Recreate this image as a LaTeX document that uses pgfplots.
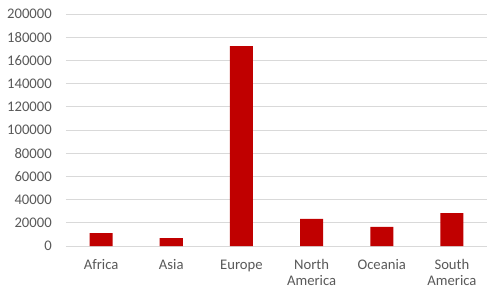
\documentclass[border=0pt]{standalone}
\usepackage{fontspec}
\setmainfont{Carlito}
\usepackage{pgfplots}
\pgfplotsset{compat=1.18}
\definecolor{barred}{HTML}{C00000}
\definecolor{gridgray}{HTML}{D9D9D9}
\definecolor{labelgray}{HTML}{595959}
\begin{document}
\begin{tikzpicture}[x=1pt,y=1pt]
\path[use as bounding box] (-49.5pt,-38.25pt) rectangle (316.5pt,184.5pt);
\begin{axis}[
  at={(0,0)}, anchor=south west,
  scale only axis,
  width=315.75pt, height=174pt,
  xmin=-0.5, xmax=5.5,
  ymin=0, ymax=200000,
  ytick distance=20000,
  xtick=data,
  xticklabels={Africa,Asia,Europe,{North\\America},Oceania,{South\\America}},
  yticklabel={\pgfmathtruncatemacro\v{\tick}\v},
  ymajorgrids,
  grid style={gridgray, line width=0.75pt},
  axis line style={draw=none},
  major tick length=0pt,
  scaled y ticks=false,
  tick label style={font=\fontsize{11}{12}\selectfont, text=labelgray},
  yticklabel style={anchor=east, inner sep=0pt, xshift=-10.5pt},
  xticklabel style={anchor=north, inner sep=0pt, yshift=-10pt, align=center},
  clip=false,
]
\addplot[ybar, bar width=17.25pt, fill=barred, draw=none] coordinates {
  (0,11200) (1,6900) (2,172400) (3,23300) (4,16400) (5,28400)
};
\end{axis}
\end{tikzpicture}
\end{document}
